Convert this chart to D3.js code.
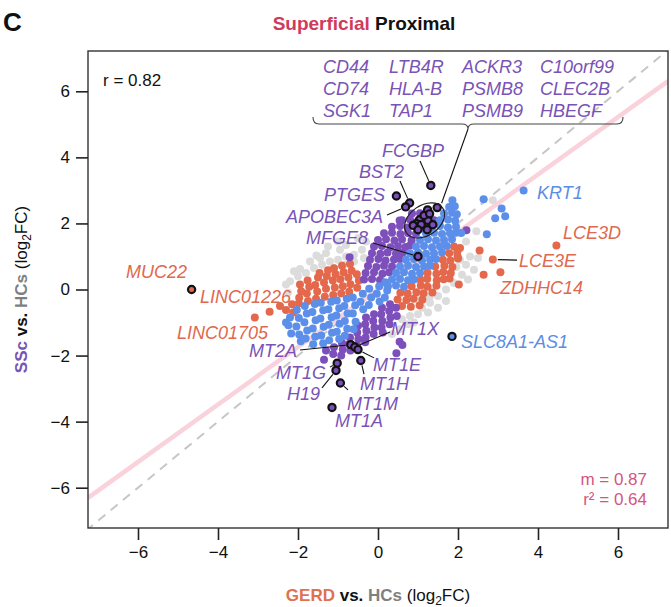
<!DOCTYPE html>
<html>
<head>
<meta charset="utf-8">
<script src="https://cdn.jsdelivr.net/npm/d3@7"></script>
<style>
  body { margin: 0; background: #fff; }
  svg { display: block; font-family: "Liberation Sans", Arial, Helvetica, sans-serif; }
</style>
</head>
<body>
<svg id="chart" width="671" height="607"></svg>
<script>
const ticks = [-6, -4, -2, 0, 2, 4, 6];
const corrR = 0.82;
const slope = 0.87;
const rSquared = 0.64;

// genes not significant in either comparison
const notSig = [
  [-2.2,0.25],[-2.0,0.4],[-1.8,0.5],[-1.6,0.65],[-1.4,0.75],[-1.2,0.85],[-1.0,0.9],[-0.8,1.0],
  [-0.6,1.05],[-0.4,1.2],[-0.3,1.45],[-1.54,1.03],[-1.3,1.1],[-0.95,1.2],[-0.6,0.85],[-0.35,0.95],
  [-1.7,0.85],[-1.1,0.65],[-0.85,0.75],[-2.3,0.15],[-1.95,0.62],[-1.0,1.45],[-0.8,1.35],
  [-1.25,1.3],[-0.5,1.55],[-1.45,0.95],[-2.1,0.55],[-2.25,-0.1],
  [1.5,-0.2],[1.7,0.0],[1.9,0.2],[2.1,0.45],[2.2,0.75],[2.3,1.0],[2.46,1.76],[2.87,2.7],
  [1.96,0.68],[2.2,1.45],[1.3,-0.4],[1.1,-0.55],[1.29,-0.23],[1.08,-0.23],[2.05,0.9],
  [2.4,0.6],[2.5,0.95],[2.25,0.3],[1.7,-0.35],[1.5,-0.55],[1.25,-0.7],
  [0.6,-0.9],[0.8,-0.8],[1.0,-0.75],[0.75,-1.05],[0.55,-1.2],[0.9,-1.0],[0.35,-1.35]
];

// GERD only
const gerdOnly = [
  [-1.95,0.15],[-1.92,-0.05],[-1.97,-0.25],
  [-2.15,-0.45],[-2.3,-0.62],[-2.45,-0.5],[-2.12,-0.7],[-1.98,-0.42],
  [-1.75,-0.35],[-1.78,-0.12],[-1.72,0.08],[-1.76,0.27],
  [-1.55,-0.28],[-1.52,-0.06],[-1.57,0.14],[-1.5,0.36],[-1.46,0.5],
  [-1.33,-0.22],[-1.3,0.02],[-1.35,0.21],[-1.28,0.41],[-1.25,0.58],
  [-1.12,-0.17],[-1.08,0.06],[-1.13,0.27],[-1.06,0.46],[-1.1,0.64],
  [-0.92,-0.12],[-0.88,0.1],[-0.94,0.31],[-0.86,0.52],[-0.9,0.72],
  [-0.72,-0.07],[-0.69,0.16],[-0.74,0.36],[-0.66,0.57],[-0.7,0.77],
  [-0.52,0.05],[-0.48,0.27],[-0.53,0.46],
  [-2.71,-0.67],[-3.08,-0.85],
  [1.9,1.3],[2.05,1.26],
  [1.78,1.1],[1.98,1.12],
  [1.62,0.9],[1.81,0.88],[2.0,0.94],
  [1.43,0.7],[1.66,0.72],[1.86,0.68],
  [1.24,0.5],[1.46,0.48],[1.63,0.53],[1.82,0.5],
  [1.06,0.3],[1.23,0.32],[1.47,0.28],[1.64,0.31],
  [0.84,0.1],[1.07,0.12],[1.24,0.08],[1.46,0.11],
  [0.56,-0.1],[0.74,-0.12],[0.96,-0.08],[1.14,-0.11],[1.36,-0.09],
  [0.49,-0.3],[0.71,-0.32],[0.89,-0.28],[1.11,-0.31],
  [0.6,-0.5],[0.82,-0.52],[1.04,-0.48],
  [2.54,1.18],[2.64,0.45],[3.06,0.52],[2.02,0.15],[1.79,0.33],[1.99,1.0],
  [4.46,1.33],[2.87,0.91]
];

// SSc only
const sscOnly = [
  [-0.35,0.3],[-0.15,0.32],[0.05,0.29],
  [-0.31,0.5],[-0.1,0.52],[0.11,0.48],[0.28,0.52],
  [-0.25,0.71],[-0.04,0.68],[0.15,0.72],[0.35,0.7],
  [-0.2,0.9],[0.01,0.92],[0.19,0.88],[0.4,0.91],[0.55,0.92],
  [-0.15,1.1],[0.06,1.08],[0.24,1.12],[0.45,1.09],[0.62,1.12],
  [-0.1,1.3],[0.1,1.32],[0.31,1.28],[0.5,1.31],[0.69,1.29],[0.8,1.33],
  [0.0,1.5],[0.2,1.52],[0.41,1.48],[0.6,1.51],[0.84,1.49],
  [0.15,1.7],[0.35,1.72],[0.56,1.68],[0.75,1.71],[0.95,1.69],
  [0.35,1.9],[0.55,1.92],[0.74,1.88],[0.95,1.91],[1.15,1.89],
  [0.6,2.1],[0.8,2.12],[1.0,2.08],[1.2,2.11],[1.4,2.1],
  [0.85,2.3],[1.05,2.31],
  [-0.71,0.98],[2.21,1.79],[0.54,2.09],
  [-1.3,-1.85],
  [-1.1,-1.75],[-1.12,-1.95],
  [-0.9,-1.62],[-0.88,-1.82],[-0.92,-2.0],
  [-0.7,-1.45],[-0.72,-1.65],[-0.69,-1.85],
  [-0.5,-1.1],[-0.52,-1.3],[-0.49,-1.5],[-0.52,-1.7],
  [-0.3,-0.85],[-0.32,-1.05],[-0.29,-1.25],[-0.31,-1.45],[-0.32,-1.6],
  [-0.1,-0.75],[-0.12,-0.95],[-0.09,-1.15],[-0.11,-1.35],
  [0.1,-0.55],[0.08,-0.75],[0.11,-0.95],[0.09,-1.15],[0.12,-1.3],
  [0.3,-0.45],[0.28,-0.65],[0.31,-0.85],[0.29,-1.05],
  [0.45,-0.55],[0.47,-0.8],
  [-1.35,-2.13],[0.54,-1.58],[0.61,-1.68],[0.46,-1.93]
];

// significant in both
const bothSig = [
  [-2.2,-0.85],[-2.24,-1.08],[-2.17,-1.33],[-2.3,-1.0],
  [-2.03,-0.62],[-1.98,-0.86],[-2.04,-1.12],[-1.97,-1.36],[-1.93,-1.57],
  [-1.83,-0.5],[-1.78,-0.73],[-1.84,-0.99],[-1.77,-1.24],[-1.81,-1.48],
  [-1.58,-0.44],[-1.64,-0.68],[-1.56,-0.93],[-1.63,-1.18],[-1.57,-1.43],[-1.62,-1.66],
  [-1.43,-0.4],[-1.37,-0.63],[-1.44,-0.88],[-1.36,-1.13],[-1.42,-1.39],[-1.37,-1.63],
  [-1.17,-0.37],[-1.24,-0.6],[-1.16,-0.84],[-1.23,-1.07],[-1.15,-1.31],[-1.22,-1.54],
  [-1.03,-0.33],[-0.97,-0.57],[-1.04,-0.79],[-0.96,-1.04],[-1.03,-1.28],[-0.97,-1.5],
  [-0.78,-0.28],[-0.84,-0.5],[-0.76,-0.73],[-0.83,-0.95],[-0.77,-1.19],[-0.83,-1.4],
  [-0.63,-0.24],[-0.57,-0.48],[-0.63,-0.73],[-0.56,-0.98],[-0.61,-1.2],
  [-0.38,-0.13],[-0.44,-0.37],[-0.37,-0.6],
  [-0.22,0.02],[-0.17,-0.24],[-0.23,-0.47],
  [0.03,0.1],[-0.03,-0.13],[0.04,-0.36],
  [0.18,0.22],[0.23,-0.03],[0.17,-0.24],
  [0.25,0.1],[0.45,0.12],[0.65,0.08],
  [0.35,0.3],[0.55,0.32],[0.75,0.28],[0.9,0.3],
  [0.45,0.5],[0.65,0.52],[0.85,0.48],[1.05,0.5],
  [0.55,0.7],[0.75,0.72],[0.95,0.68],[1.15,0.7],[1.3,0.72],
  [0.7,0.9],[0.9,0.92],[1.1,0.88],[1.3,0.9],[1.45,0.92],
  [0.8,1.1],[1.0,1.12],[1.2,1.08],[1.4,1.1],[1.6,1.12],
  [0.95,1.3],[1.15,1.32],[1.35,1.28],[1.55,1.3],[1.72,1.32],
  [1.05,1.5],[1.25,1.52],[1.45,1.48],[1.65,1.5],[1.85,1.52],
  [1.2,1.7],[1.4,1.72],[1.6,1.68],[1.8,1.7],[1.95,1.72],
  [1.35,1.9],[1.55,1.92],[1.75,1.88],[1.95,1.9],
  [1.55,2.1],[1.75,2.12],[1.93,2.08],
  [1.65,2.3],[1.85,2.32],[1.97,2.28],
  [1.78,2.5],[1.92,2.52],[1.86,2.7],
  [2.08,1.71],[2.64,2.73],[3.09,2.45],[3.18,2.22],[2.93,2.16],[2.72,1.67],[3.64,3.0]
];

// outlined genes
const geneNames = ["FCGBP","PTGES","BST2","APOBEC3A","MFGE8","MT2A","MT1X","MT1E","MT1H","MT1G","H19","MT1M","MT1A","MUC22","SLC8A1-AS1"];
const geneX = [1.32, 0.46, 0.79, 0.69, 1.0, -0.68, -0.58, -0.5, -0.43, -1.02, -1.05, -0.94, -1.15, -4.66, 1.85];
const geneY = [3.15, 2.83, 2.62, 2.50, 1.0, -1.67, -1.74, -1.82, -2.15, -2.23, -2.45, -2.83, -3.57, 0.0, -1.42];
const geneGroup = ["ssc","ssc","ssc","ssc","ssc","ssc","ssc","ssc","ssc","ssc","ssc","ssc","ssc","gerd","both"];

// the circled group of twelve
const clusterPoints = [
  [1.24,2.41],[1.48,2.48],[1.04,2.11],[1.25,2.09],[0.96,1.99],[1.08,1.97],
  [1.37,1.96],[0.88,1.94],[1.0,1.81],[1.23,1.81],[1.15,2.24],[1.29,2.29]
];
const clusterColumns = [
  ["CD44", "CD74", "SGK1"],
  ["LTB4R", "HLA-B", "TAP1"],
  ["ACKR3", "PSMB8", "PSMB9"],
  ["C10orf99", "CLEC2B", "HBEGF"]
];

const colors = { none: "#dcdcdc", gerd: "#e4684b", ssc: "#7d4fbb", both: "#5c8fea" };
const textColors = { gerd: "#e0694d", ssc: "#7953b6", both: "#5b8de4" };

// label placement in data units: text, x, y, anchor, colour group, leader start, leader target
const labelLayout = [
  ["FCGBP", 0.875, 4.01, "middle", "ssc", [1.05, 3.89], "FCGBP"],
  ["BST2", 0.65, 3.375, "end", "ssc", [0.55, 3.285], "BST2"],
  ["PTGES", 0.175, 2.68, "end", "ssc", null],
  ["APOBEC3A", 0.125, 2.01, "end", "ssc", [0.225, 2.255], "APOBEC3A"],
  ["MFGE8", -0.25, 1.38, "end", "ssc", [-0.125, 1.41], "MFGE8"],
  ["MUC22", -4.775, 0.35, "end", "gerd", null],
  ["LINC01226", -4.45, -0.41, "start", "gerd", null],
  ["LINC01705", -2.75, -1.50, "end", "gerd", null],
  ["MT2A", -2.025, -2.04, "end", "ssc", [-1.95, -1.83], "MT2A"],
  ["MT1X", 0.325, -1.38, "start", "ssc", [0.3, -1.29], "MT1X"],
  ["MT1E", -0.125, -2.47, "start", "ssc", [-0.1, -2.07], "MT1E"],
  ["MT1H", -0.45, -3.04, "start", "ssc", [-0.35, -2.56], "MT1H"],
  ["MT1G", -1.3, -2.71, "end", "ssc", [-1.2, -2.35], "MT1G"],
  ["H19", -1.45, -3.35, "end", "ssc", [-1.4, -2.98], "H19"],
  ["MT1M", -0.775, -3.65, "start", "ssc", [-0.75, -3.04], "MT1M"],
  ["MT1A", -1.075, -4.16, "start", "ssc", null],
  ["SLC8A1-AS1", 2.075, -1.77, "start", "both", null],
  ["KRT1", 3.975, 2.74, "start", "both", null],
  ["LCE3D", 4.625, 1.53, "start", "gerd", null],
  ["LCE3E", 3.525, 0.68, "start", "gerd", [3.475, 0.89], [2.87, 0.91]],
  ["ZDHHC14", 3.05, -0.14, "start", "gerd", null]
];
const blockColX = [-1.375, 0.275, 2.1, 4.05];
const blockRowY = [6.554, 5.888, 5.237];
const brace = { x0: -1.625, x1: 6.125, xm: 2.25, top: 5.222, body: 5.01, tip: 4.859 };
const clusterLeaderEnd = [1.59, 2.61];

const svg = d3.select("#chart");
const W = 671, H = 607;
const margin = { top: 51, right: 3, bottom: 79, left: 88 };

const x = d3.scaleLinear().domain([-7.25, 7.25]).range([margin.left, W - margin.right]);
const y = d3.scaleLinear().domain([-7.22, 7.22]).range([H - margin.bottom, margin.top]);

svg.append("defs").append("clipPath").attr("id", "plotclip")
  .append("rect")
  .attr("x", margin.left).attr("y", margin.top)
  .attr("width", W - margin.left - margin.right)
  .attr("height", H - margin.top - margin.bottom);

const plot = svg.append("g").attr("clip-path", "url(#plotclip)");

// regression line and identity line
plot.append("line")
  .attr("x1", x(-7.25)).attr("y1", y(-7.25 * slope))
  .attr("x2", x(7.25)).attr("y2", y(7.25 * slope))
  .attr("stroke", "#fad2db").attr("stroke-width", 4.5);

plot.append("line")
  .attr("x1", x(-7.3)).attr("y1", y(-7.3))
  .attr("x2", x(7.3)).attr("y2", y(7.3))
  .attr("stroke", "#c6c6c6").attr("stroke-width", 2)
  .attr("stroke-dasharray", "9,7");

function drawDots(data, color) {
  plot.append("g").selectAll("circle")
    .data(data)
    .enter()
    .append("circle")
    .attr("cx", (d) => x(d[0]))
    .attr("cy", (d) => y(d[1]))
    .attr("r", 4)
    .attr("fill", color);
}
drawDots(notSig, colors.none);
drawDots(gerdOnly, colors.gerd);
drawDots(sscOnly, colors.ssc);
drawDots(bothSig, colors.both);

// leader lines
const genePos = {};
geneNames.forEach((g, i) => { genePos[g] = [geneX[i], geneY[i]]; });

const leaders = svg.append("g").attr("stroke", "#111").attr("stroke-width", 1.1);
labelLayout.forEach((l) => {
  if (!l[5]) return;
  const target = typeof l[6] === "string" ? genePos[l[6]] : l[6];
  const sx = x(l[5][0]), sy = y(l[5][1]);
  const tx = x(target[0]), ty = y(target[1]);
  const len = Math.hypot(tx - sx, ty - sy);
  const k = (len - 5) / len;
  leaders.append("line")
    .attr("x1", sx).attr("y1", sy)
    .attr("x2", sx + (tx - sx) * k).attr("y2", sy + (ty - sy) * k);
});

// cluster ellipse and brace
const cx = d3.mean(clusterPoints, (d) => d[0]);
const cy = d3.mean(clusterPoints, (d) => d[1]);

svg.append("line")
  .attr("x1", x(brace.xm)).attr("y1", y(brace.tip))
  .attr("x2", x(clusterLeaderEnd[0])).attr("y2", y(clusterLeaderEnd[1]))
  .attr("stroke", "#111").attr("stroke-width", 1.1);

const bx0 = x(brace.x0), bx1 = x(brace.x1), bxm = x(brace.xm);
const bTop = y(brace.top), bBody = y(brace.body), bTip = y(brace.tip);
const bracePath = d3.path();
bracePath.moveTo(bx0, bTop);
bracePath.quadraticCurveTo(bx0, bBody, bx0 + 6, bBody);
bracePath.lineTo(bxm - 6, bBody);
bracePath.quadraticCurveTo(bxm, bBody, bxm, bTip);
bracePath.quadraticCurveTo(bxm, bBody, bxm + 6, bBody);
bracePath.lineTo(bx1 - 6, bBody);
bracePath.quadraticCurveTo(bx1, bBody, bx1, bTop);
svg.append("path").attr("d", bracePath.toString())
  .attr("fill", "none").attr("stroke", "#444").attr("stroke-width", 1.1);

// outlined points
svg.append("g").selectAll("circle")
  .data(clusterPoints)
  .enter()
  .append("circle")
  .attr("cx", (d) => x(d[0]))
  .attr("cy", (d) => y(d[1]))
  .attr("r", 3.6)
  .attr("fill", colors.ssc)
  .attr("stroke", "#111")
  .attr("stroke-width", 2.2);

svg.append("ellipse")
  .attr("cx", 0).attr("cy", 0).attr("rx", 22).attr("ry", 15)
  .attr("transform", `translate(${x(cx)},${y(cy)}) rotate(-35)`)
  .attr("fill", "none").attr("stroke", "#222").attr("stroke-width", 1.2);

svg.append("g").selectAll("circle")
  .data(geneNames)
  .enter()
  .append("circle")
  .attr("cx", (d, i) => x(geneX[i]))
  .attr("cy", (d, i) => y(geneY[i]))
  .attr("r", 3.6)
  .attr("fill", (d, i) => colors[geneGroup[i]])
  .attr("stroke", "#111")
  .attr("stroke-width", 2.2);

// gene labels
svg.append("g").selectAll("text")
  .data(labelLayout)
  .enter()
  .append("text")
  .attr("x", (d) => x(d[1]))
  .attr("y", (d) => y(d[2]))
  .attr("text-anchor", (d) => d[3])
  .attr("fill", (d) => textColors[d[4]])
  .attr("font-style", "italic")
  .attr("font-size", 18)
  .text((d) => d[0]);

clusterColumns.forEach((col, ci) => {
  col.forEach((name, ri) => {
    svg.append("text")
      .attr("x", x(blockColX[ci]))
      .attr("y", y(blockRowY[ri]))
      .attr("fill", textColors.ssc)
      .attr("font-style", "italic")
      .attr("font-size", 18)
      .text(name);
  });
});

// frame and axes
svg.append("rect")
  .attr("x", margin.left).attr("y", margin.top)
  .attr("width", W - margin.left - margin.right)
  .attr("height", H - margin.top - margin.bottom)
  .attr("fill", "none").attr("stroke", "#333").attr("stroke-width", 1.4);

const xAxis = svg.append("g")
  .attr("transform", `translate(0,${H - margin.bottom})`)
  .call(d3.axisBottom(x).tickValues(ticks).tickSize(12).tickPadding(6));
const yAxis = svg.append("g")
  .attr("transform", `translate(${margin.left},0)`)
  .call(d3.axisLeft(y).tickValues(ticks).tickSize(12).tickPadding(6));
[xAxis, yAxis].forEach((a) => {
  a.select(".domain").remove();
  a.selectAll(".tick line").attr("stroke", "#222").attr("stroke-width", 1.6);
  a.selectAll(".tick text").attr("fill", "#111").attr("font-size", 17)
    .attr("font-family", "'Liberation Sans', Arial, sans-serif");
});

// annotations
svg.append("text").attr("x", 103).attr("y", 86).attr("font-size", 17).attr("fill", "#111")
  .text("r = " + corrR.toFixed(2));
svg.append("text").attr("x", 647).attr("y", 485).attr("font-size", 17).attr("fill", "#d4557f")
  .attr("text-anchor", "end").text("m = " + slope.toFixed(2));
svg.append("text").attr("x", 647).attr("y", 505).attr("font-size", 17).attr("fill", "#d4557f")
  .attr("text-anchor", "end").text("r\u00b2 = " + rSquared.toFixed(2));

// titles
svg.append("text").attr("x", 3).attr("y", 31).attr("font-size", 26).attr("font-weight", "bold")
  .attr("fill", "#111").text("C");

const title = svg.append("text").attr("x", 364).attr("y", 30).attr("text-anchor", "middle")
  .attr("font-size", 19).attr("font-weight", "bold");
title.append("tspan").attr("fill", "#d13a5c").text("Superficial");
title.append("tspan").attr("fill", "#111").text(" Proximal");

function axisTitle(sel, first, firstColor) {
  sel.attr("font-size", 17).attr("text-anchor", "middle");
  sel.append("tspan").attr("fill", firstColor).attr("font-weight", "bold").text(first);
  sel.append("tspan").attr("fill", "#111").attr("font-weight", "bold").text(" vs. ");
  sel.append("tspan").attr("fill", "#7f7f7f").attr("font-weight", "bold").text("HCs");
  sel.append("tspan").attr("fill", "#111").text(" (log");
  sel.append("tspan").attr("fill", "#111").attr("font-size", 12).attr("dy", 4).text("2");
  sel.append("tspan").attr("fill", "#111").attr("dy", -4).text("FC)");
}
axisTitle(svg.append("text").attr("x", (margin.left + W - margin.right) / 2).attr("y", 601),
  "GERD", "#e0714f");
axisTitle(svg.append("text")
  .attr("transform", `translate(27,${(margin.top + H - margin.bottom) / 2}) rotate(-90)`),
  "SSc", "#7953b6");
</script>
</body>
</html>
